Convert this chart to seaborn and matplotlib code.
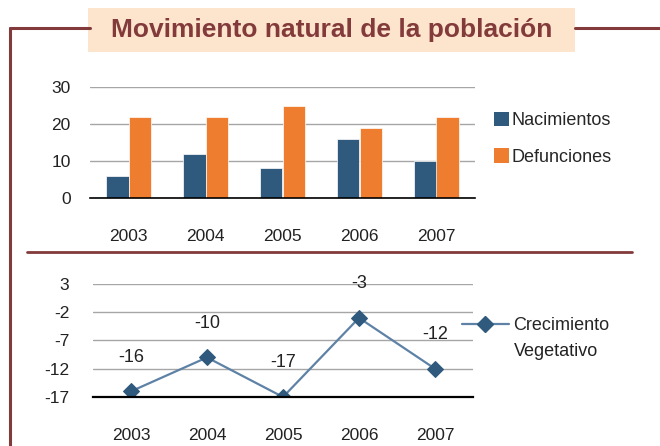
import matplotlib
matplotlib.use("Agg")
import matplotlib.pyplot as plt
from matplotlib.lines import Line2D
from matplotlib.patches import Rectangle, Patch
import numpy as np
import pandas as pd
import seaborn as sns

# data
years = ["2003", "2004", "2005", "2006", "2007"]
nacimientos = [6, 12, 8, 16, 10]
defunciones = [22, 22, 25, 19, 22]
crecimiento = [-16, -10, -17, -3, -12]

title = "Movimiento natural de la población"
series_names = ["Nacimientos", "Defunciones"]
line_name = ["Crecimiento", "Vegetativo"]

BLUE = "#2f5a7d"
ORANGE = "#ef7d2f"
LINE_BLUE = "#5e82a6"
MAROON = "#833a3a"
TITLE_BG = "#fde4cd"
GRID = "#a6a6a6"
TXT = "#222222"

sns.set_theme(style="white")
plt.rcParams["font.family"] = ["Liberation Sans", "DejaVu Sans"]
plt.rcParams["axes.unicode_minus"] = False

W, H = 660, 446
fig = plt.figure(figsize=(W / 100, H / 100), dpi=100)


def fx(x):
    return x / W


def fy(y):
    return 1 - y / H


def axes_rect(x0, y0, x1, y1):
    # pixel box (top-left origin) -> figure fraction rect
    return [fx(x0), fy(y1), fx(x1) - fx(x0), fy(y0) - fy(y1)]


# frame lines
fig.add_artist(Line2D([fx(10), fx(10)], [fy(28), fy(446)], color=MAROON, lw=2.2))
fig.add_artist(Line2D([fx(10), fx(90)], [fy(28), fy(28)], color=MAROON, lw=2.2))
fig.add_artist(Line2D([fx(575), fx(660)], [fy(28), fy(28)], color=MAROON, lw=2.2))
fig.add_artist(Line2D([fx(27), fx(632)], [fy(252), fy(252)], color=MAROON, lw=2.0))

# title box
fig.add_artist(Rectangle((fx(88), fy(52)), fx(575) - fx(88), fy(8) - fy(52),
                         transform=fig.transFigure, facecolor=TITLE_BG, edgecolor="none"))
fig.text(fx(332), fy(30), title, ha="center", va="center", fontsize=19,
         fontweight="bold", color=MAROON)

# ---- bar chart ----
ax1 = fig.add_axes(axes_rect(90, 87, 475, 198))
df_bars = pd.DataFrame({
    "year": years * 2,
    "valor": nacimientos + defunciones,
    "serie": [series_names[0]] * len(years) + [series_names[1]] * len(years),
})
sns.barplot(data=df_bars, x="year", y="valor", hue="serie",
            palette=[BLUE, ORANGE], width=0.58, saturation=1,
            edgecolor="white", linewidth=0.5, ax=ax1, legend=False)
ax1.set_ylim(0, 30)
ax1.set_yticks([0, 10, 20, 30])
ax1.set_xlim(-0.5, 4.5)
ax1.yaxis.grid(True, color=GRID, lw=1)
ax1.set_axisbelow(True)
for s in ["top", "right", "left"]:
    ax1.spines[s].set_visible(False)
ax1.spines["bottom"].set_color("black")
ax1.spines["bottom"].set_linewidth(1.2)
ax1.set_xlabel("")
ax1.set_ylabel("")
ax1.tick_params(axis="x", length=0, pad=22, labelsize=12.5, labelcolor=TXT)
ax1.tick_params(axis="y", length=0, pad=14, labelsize=12.5, labelcolor=TXT)
ax1.patch.set_alpha(0)

handles = [Patch(facecolor=BLUE, edgecolor="none"), Patch(facecolor=ORANGE, edgecolor="none")]
fig.legend(handles, series_names, loc="upper left",
           bbox_to_anchor=(fx(494), fy(112)), frameon=False,
           handlelength=0.85, handleheight=0.85, handletextpad=0.1,
           labelspacing=1.05, fontsize=13, borderaxespad=0, borderpad=0)

# ---- line chart ----
ax2 = fig.add_axes(axes_rect(93, 284, 473, 397))
df_line = pd.DataFrame({"year": years, "valor": crecimiento})
sns.lineplot(data=df_line, x="year", y="valor", color=LINE_BLUE, lw=1.6,
             marker="D", markersize=8, markerfacecolor=BLUE,
             markeredgecolor=BLUE, ax=ax2)
ax2.set_ylim(-17, 3)
ax2.set_yticks([3, -2, -7, -12, -17])
ax2.set_xlim(-0.5, 4.5)
ax2.yaxis.grid(True, color=GRID, lw=1)
ax2.set_axisbelow(True)
for s in ["top", "right", "left"]:
    ax2.spines[s].set_visible(False)
ax2.spines["bottom"].set_color("black")
ax2.spines["bottom"].set_linewidth(1.6)
ax2.set_xlabel("")
ax2.set_ylabel("")
ax2.tick_params(axis="x", length=0, pad=22, labelsize=12.5, labelcolor=TXT)
ax2.tick_params(axis="y", length=0, pad=17, labelsize=12.5, labelcolor=TXT)
ax2.patch.set_alpha(0)
for i, v in enumerate(crecimiento):
    ax2.annotate(str(v), (i, v), xytext=(0, 24.5), textcoords="offset points",
                 ha="center", va="center", fontsize=13, color=TXT,
                 annotation_clip=False)

# legend: handle sits next to the first line of the label
line_handle = Line2D([], [], color=LINE_BLUE, lw=1.6, marker="D", markersize=8,
                     markerfacecolor=BLUE, markeredgecolor=BLUE)
fig.legend([line_handle], [line_name[0]], loc="upper left",
           bbox_to_anchor=(fx(462), fy(317)), frameon=False,
           handlelength=2.6, handletextpad=0.25, fontsize=13,
           borderaxespad=0, borderpad=0)
fig.text(fx(514), fy(351), line_name[1], ha="left", va="center",
         fontsize=13, color=TXT)

fig.savefig("out.png", dpi=100)
